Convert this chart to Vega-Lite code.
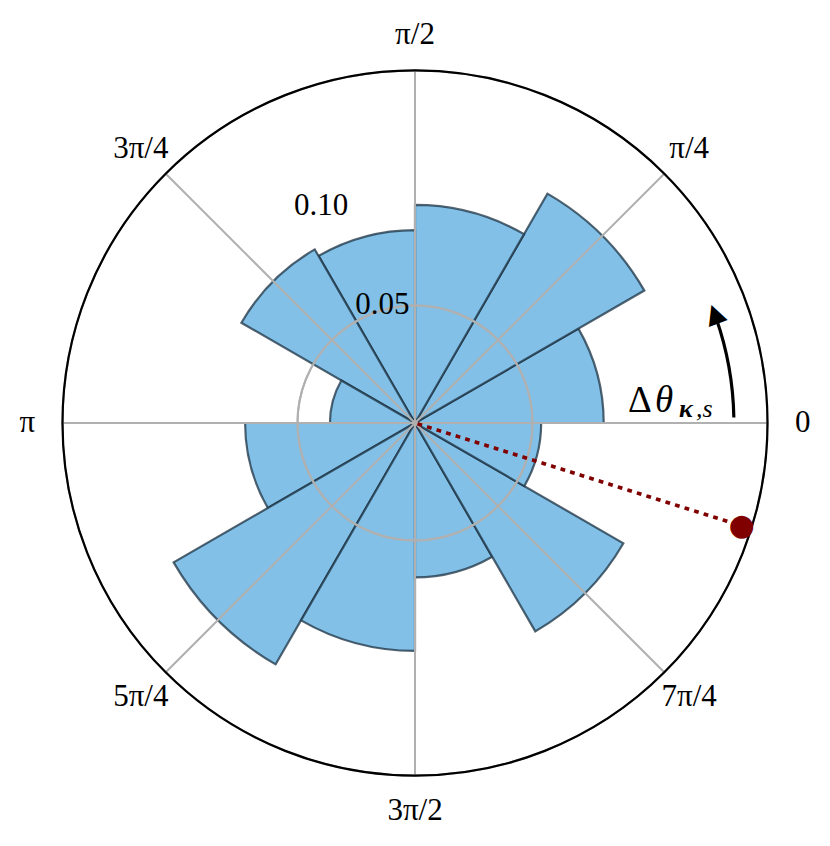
{
  "$schema": "https://vega.github.io/schema/vega-lite/v6.json",
  "width": 830,
  "height": 846,
  "padding": 0,
  "autosize": {"type": "none"},
  "background": "white",
  "config": {"view": {"stroke": null}},
  "datasets": {
    "bars": [
      {"start": 0, "end": 0.5236, "r": 0.0803},
      {"start": 0.5236, "end": 1.0472, "r": 0.1127},
      {"start": 1.0472, "end": 1.5708, "r": 0.0928},
      {"start": 1.5708, "end": 2.0944, "r": 0.0821},
      {"start": 2.0944, "end": 2.618, "r": 0.0853},
      {"start": 2.618, "end": 3.1416, "r": 0.0362},
      {"start": 3.1416, "end": 3.6652, "r": 0.0723},
      {"start": 3.6652, "end": 4.1888, "r": 0.1186},
      {"start": 4.1888, "end": 4.7124, "r": 0.097},
      {"start": 4.7124, "end": 5.236, "r": 0.0657},
      {"start": 5.236, "end": 5.7596, "r": 0.1024},
      {"start": 5.7596, "end": 6.2832, "r": 0.0537}
    ],
    "circles": [{"r": 0.05}, {"r": 0.1}],
    "spokes": [
      {"a": 0, "label": "0"},
      {"a": 0.7854, "label": "π/4"},
      {"a": 1.5708, "label": "π/2"},
      {"a": 2.3562, "label": "3π/4"},
      {"a": 3.1416, "label": "π"},
      {"a": 3.927, "label": "5π/4"},
      {"a": 4.7124, "label": "3π/2"},
      {"a": 5.4978, "label": "7π/4"}
    ],
    "rlabels": [
      {"a": 1.979, "r": 0.1006, "label": "0.10"},
      {"a": 1.84, "r": 0.0521, "label": "0.05"}
    ],
    "marker": [{"a": -0.305, "r": 0.1457}],
    "arrow": [{"a0": 0.0175, "a1": 0.335, "r": 0.1357, "ah": 0.352}],
    "annot": [{"a": 0.0516, "r": 0.09076}]
  },
  "layer": [
    {
      "data": {"name": "bars"},
      "mark": {"type": "arc", "fill": "#82c0e7", "stroke": "#1c3242", "strokeOpacity": 0.75, "strokeWidth": 2.2},
      "encoding": {
        "theta": {"field": "start", "type": "quantitative", "stack": null, "scale": {"type": "linear", "domain": [0, 6.283185307179586], "range": [1.5707963267948966, -4.71238898038469], "nice": false, "zero": false}},
        "theta2": {"field": "end"},
        "radius": {"field": "r", "type": "quantitative", "scale": {"type": "linear", "domain": [0, 0.15], "range": [0, 352.5], "nice": false, "zero": true}}
      }
    },
    {
      "data": {"name": "circles"},
      "mark": {"type": "arc", "fill": "transparent", "stroke": "#b0b0b0", "strokeWidth": 2},
      "encoding": {
        "theta": {"datum": 0, "type": "quantitative", "stack": null, "scale": {"type": "linear", "domain": [0, 6.283185307179586], "range": [1.5707963267948966, -4.71238898038469], "nice": false, "zero": false}},
        "theta2": {"datum": 6.283185307179586},
        "radius": {"field": "r", "type": "quantitative", "scale": {"type": "linear", "domain": [0, 0.15], "range": [0, 352.5], "nice": false, "zero": true}}
      }
    },
    {
      "data": {"name": "spokes"},
      "mark": {"type": "arc", "fill": "transparent", "stroke": "#b0b0b0", "strokeWidth": 2},
      "encoding": {
        "theta": {"field": "a", "type": "quantitative", "stack": null, "scale": {"type": "linear", "domain": [0, 6.283185307179586], "range": [1.5707963267948966, -4.71238898038469], "nice": false, "zero": false}},
        "theta2": {"field": "a"},
        "radius": {"datum": 0.15, "type": "quantitative", "scale": {"type": "linear", "domain": [0, 0.15], "range": [0, 352.5], "nice": false, "zero": true}}
      }
    },
    {
      "data": {"values": [{"r": 0.15}]},
      "mark": {"type": "arc", "fill": "transparent", "stroke": "black", "strokeWidth": 2.2},
      "encoding": {
        "theta": {"datum": 0, "type": "quantitative", "stack": null, "scale": {"type": "linear", "domain": [0, 6.283185307179586], "range": [1.5707963267948966, -4.71238898038469], "nice": false, "zero": false}},
        "theta2": {"datum": 6.283185307179586},
        "radius": {"field": "r", "type": "quantitative", "scale": {"type": "linear", "domain": [0, 0.15], "range": [0, 352.5], "nice": false, "zero": true}}
      }
    },
    {
      "data": {"name": "marker"},
      "mark": {"type": "arc", "fill": "transparent", "stroke": "#800000", "strokeWidth": 3.6, "strokeDash": [3.6, 6.4], "strokeDashOffset": 3.805},
      "encoding": {
        "theta": {"field": "a", "type": "quantitative", "stack": null, "scale": {"type": "linear", "domain": [0, 6.283185307179586], "range": [1.5707963267948966, -4.71238898038469], "nice": false, "zero": false}},
        "theta2": {"field": "a"},
        "radius": {"field": "r", "type": "quantitative", "scale": {"type": "linear", "domain": [0, 0.15], "range": [0, 352.5], "nice": false, "zero": true}}
      }
    },
    {
      "data": {"name": "marker"},
      "mark": {"type": "text", "text": "●", "font": "DejaVu Sans", "fontSize": 30, "color": "#800000", "align": "center", "baseline": "middle"},
      "encoding": {
        "theta": {"field": "a", "type": "quantitative", "stack": null, "scale": {"type": "linear", "domain": [0, 6.283185307179586], "range": [1.5707963267948966, -4.71238898038469], "nice": false, "zero": false}},
        "radius": {"field": "r", "type": "quantitative", "scale": {"type": "linear", "domain": [0, 0.15], "range": [0, 352.5], "nice": false, "zero": true}}
      }
    },
    {
      "data": {"name": "arrow"},
      "mark": {"type": "arc", "fill": "transparent", "stroke": "black", "strokeWidth": 3.2},
      "encoding": {
        "theta": {"field": "a0", "type": "quantitative", "stack": null, "scale": {"type": "linear", "domain": [0, 6.283185307179586], "range": [1.5707963267948966, -4.71238898038469], "nice": false, "zero": false}},
        "theta2": {"field": "a1"},
        "radius": {"field": "r", "type": "quantitative", "scale": {"type": "linear", "domain": [0, 0.15], "range": [0, 352.5], "nice": false, "zero": true}},
        "radius2": {"field": "r"}
      }
    },
    {
      "data": {"name": "arrow"},
      "mark": {"type": "text", "text": "▲", "font": "DejaVu Sans", "fontSize": 26, "color": "black", "align": "center", "baseline": "middle", "angle": -20.2},
      "encoding": {
        "theta": {"field": "ah", "type": "quantitative", "stack": null, "scale": {"type": "linear", "domain": [0, 6.283185307179586], "range": [1.5707963267948966, -4.71238898038469], "nice": false, "zero": false}},
        "radius": {"field": "r", "type": "quantitative", "scale": {"type": "linear", "domain": [0, 0.15], "range": [0, 352.5], "nice": false, "zero": true}}
      }
    },
    {
      "data": {"name": "spokes"},
      "mark": {"type": "text", "font": "Liberation Serif, DejaVu Serif, serif", "fontSize": 31, "color": "black", "align": "center", "baseline": "middle"},
      "encoding": {
        "theta": {"field": "a", "type": "quantitative", "stack": null, "scale": {"type": "linear", "domain": [0, 6.283185307179586], "range": [1.5707963267948966, -4.71238898038469], "nice": false, "zero": false}},
        "radius": {"datum": 0.165, "type": "quantitative", "scale": {"type": "linear", "domain": [0, 0.15], "range": [0, 352.5], "nice": false, "zero": true}},
        "text": {"field": "label", "type": "nominal"}
      }
    },
    {
      "data": {"name": "rlabels"},
      "mark": {"type": "text", "font": "Liberation Serif, DejaVu Serif, serif", "fontSize": 31, "color": "black", "align": "center", "baseline": "middle"},
      "encoding": {
        "theta": {"field": "a", "type": "quantitative", "stack": null, "scale": {"type": "linear", "domain": [0, 6.283185307179586], "range": [1.5707963267948966, -4.71238898038469], "nice": false, "zero": false}},
        "radius": {"field": "r", "type": "quantitative", "scale": {"type": "linear", "domain": [0, 0.15], "range": [0, 352.5], "nice": false, "zero": true}},
        "text": {"field": "label", "type": "nominal"}
      }
    },
    {
      "data": {"name": "annot"},
      "mark": {"type": "text", "text": "Δ", "font": "Liberation Serif, DejaVu Serif, serif", "fontSize": 37, "color": "black", "align": "left", "baseline": "alphabetic"},
      "encoding": {
        "theta": {"field": "a", "type": "quantitative", "stack": null, "scale": {"type": "linear", "domain": [0, 6.283185307179586], "range": [1.5707963267948966, -4.71238898038469], "nice": false, "zero": false}},
        "radius": {"field": "r", "type": "quantitative", "scale": {"type": "linear", "domain": [0, 0.15], "range": [0, 352.5], "nice": false, "zero": true}}
      }
    },
    {
      "data": {"name": "annot"},
      "mark": {"type": "text", "text": "θ", "font": "Liberation Serif, DejaVu Serif, serif", "fontStyle": "italic", "fontSize": 37, "color": "black", "align": "left", "baseline": "alphabetic", "dx": 27},
      "encoding": {
        "theta": {"field": "a", "type": "quantitative", "stack": null, "scale": {"type": "linear", "domain": [0, 6.283185307179586], "range": [1.5707963267948966, -4.71238898038469], "nice": false, "zero": false}},
        "radius": {"field": "r", "type": "quantitative", "scale": {"type": "linear", "domain": [0, 0.15], "range": [0, 352.5], "nice": false, "zero": true}}
      }
    },
    {
      "data": {"name": "annot"},
      "mark": {"type": "text", "text": "κ", "font": "Liberation Serif, DejaVu Serif, serif", "fontStyle": "italic", "fontWeight": "bold", "fontSize": 26, "color": "black", "align": "left", "baseline": "alphabetic", "dx": 51, "dy": 5},
      "encoding": {
        "theta": {"field": "a", "type": "quantitative", "stack": null, "scale": {"type": "linear", "domain": [0, 6.283185307179586], "range": [1.5707963267948966, -4.71238898038469], "nice": false, "zero": false}},
        "radius": {"field": "r", "type": "quantitative", "scale": {"type": "linear", "domain": [0, 0.15], "range": [0, 352.5], "nice": false, "zero": true}}
      }
    },
    {
      "data": {"name": "annot"},
      "mark": {"type": "text", "text": ",s", "font": "Liberation Serif, DejaVu Serif, serif", "fontStyle": "italic", "fontSize": 26, "color": "black", "align": "left", "baseline": "alphabetic", "dx": 68, "dy": 5},
      "encoding": {
        "theta": {"field": "a", "type": "quantitative", "stack": null, "scale": {"type": "linear", "domain": [0, 6.283185307179586], "range": [1.5707963267948966, -4.71238898038469], "nice": false, "zero": false}},
        "radius": {"field": "r", "type": "quantitative", "scale": {"type": "linear", "domain": [0, 0.15], "range": [0, 352.5], "nice": false, "zero": true}}
      }
    }
  ]
}
